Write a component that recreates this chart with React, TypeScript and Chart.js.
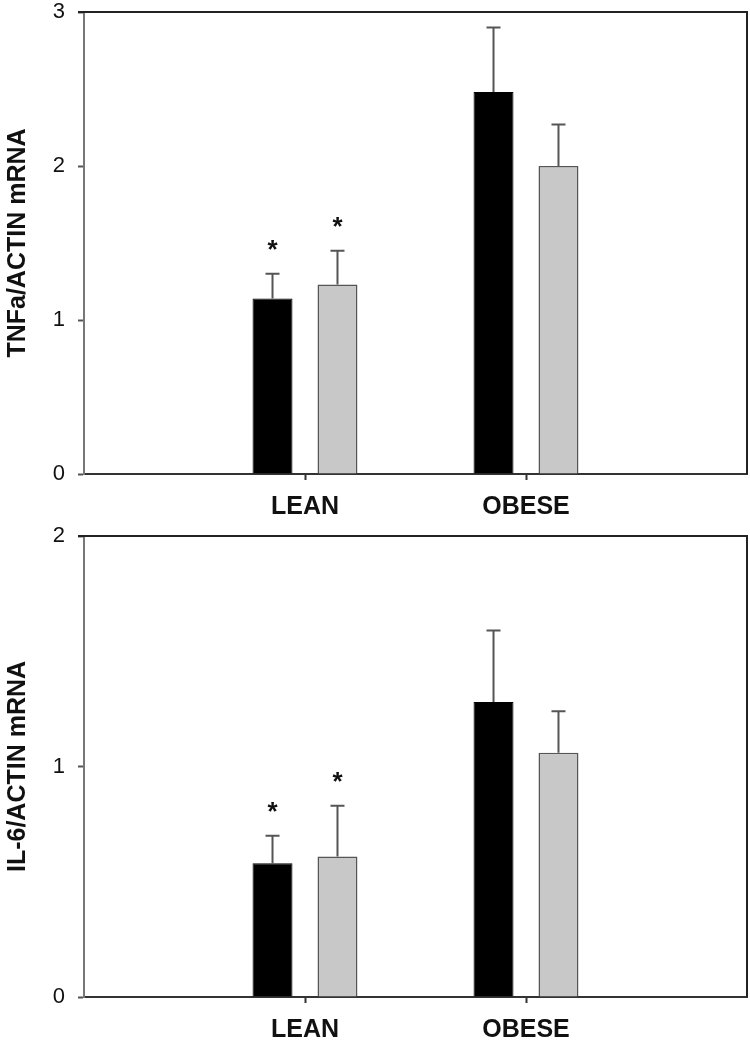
import React, { useEffect, useRef } from "react";
import { Chart, registerables } from "chart.js";

Chart.register(...registerables);

const categories = ["", "LEAN", "OBESE", ""];

const tnfBlack = [null, 1.14, 2.48, null];
const tnfBlackErr = [null, 0.16, 0.42, null];
const tnfGray = [null, 1.23, 2.0, null];
const tnfGrayErr = [null, 0.22, 0.27, null];
const tnfBlackStars = ["", "*", "", ""];
const tnfGrayStars = ["", "*", "", ""];

const il6Black = [null, 0.58, 1.28, null];
const il6BlackErr = [null, 0.12, 0.31, null];
const il6Gray = [null, 0.61, 1.06, null];
const il6GrayErr = [null, 0.22, 0.18, null];
const il6BlackStars = ["", "*", "", ""];
const il6GrayStars = ["", "*", "", ""];

const tnfTicks = [0, 1, 2, 3];
const il6Ticks = [0, 1, 2];

const FONT = "'Liberation Sans', Arial, Helvetica, sans-serif";

const errorBarPlugin = {
  id: "errorBars",
  afterDatasetsDraw(chart: any) {
    const ctx = chart.ctx;
    const yScale = chart.scales.y;
    chart.data.datasets.forEach((ds: any, di: number) => {
      const meta = chart.getDatasetMeta(di);
      meta.data.forEach((bar: any, i: number) => {
        const v = ds.data[i];
        if (v == null) return;
        const err = ds.errors ? ds.errors[i] : null;
        const x = bar.x;
        const yTop = yScale.getPixelForValue(v);
        let capY = yTop;
        if (err != null) {
          capY = yScale.getPixelForValue(v + err);
          ctx.save();
          ctx.strokeStyle = "#555";
          ctx.lineWidth = 2;
          ctx.beginPath();
          ctx.moveTo(x, yTop);
          ctx.lineTo(x, capY);
          ctx.moveTo(x - 7, capY);
          ctx.lineTo(x + 7, capY);
          ctx.stroke();
          ctx.restore();
        }
        const star = ds.stars ? ds.stars[i] : "";
        if (star) {
          ctx.save();
          ctx.fillStyle = "#111";
          ctx.font = `bold 26px ${FONT}`;
          ctx.textAlign = "center";
          ctx.textBaseline = "alphabetic";
          ctx.fillText(star, x, capY - 16);
          ctx.restore();
        }
      });
    });
  },
};

const frameBorderPlugin = {
  id: "frameBorder",
  afterDraw(chart: any) {
    const { ctx, chartArea } = chart;
    ctx.save();
    ctx.strokeStyle = "#222";
    ctx.lineWidth = 2;
    ctx.beginPath();
    ctx.moveTo(chartArea.left - 6, chartArea.top);
    ctx.lineTo(chartArea.right, chartArea.top);
    ctx.lineTo(chartArea.right, chartArea.bottom);
    ctx.stroke();
    ctx.restore();
  },
};

function makeConfig(
  title: string,
  ticks: number[],
  black: (number | null)[],
  blackErr: (number | null)[],
  blackStars: string[],
  gray: (number | null)[],
  grayErr: (number | null)[],
  grayStars: string[],
  padTop: number,
  xHeight: number
): any {
  return {
    type: "bar",
    data: {
      labels: categories,
      datasets: [
        {
          label: "black",
          data: black,
          errors: blackErr,
          stars: blackStars,
          backgroundColor: "#000000",
          borderColor: "#000000",
          borderWidth: 1,
          categoryPercentage: 0.588,
          barPercentage: 0.615,
        },
        {
          label: "gray",
          data: gray,
          errors: grayErr,
          stars: grayStars,
          backgroundColor: "#c8c8c8",
          borderColor: "#555555",
          borderWidth: 1.5,
          categoryPercentage: 0.588,
          barPercentage: 0.615,
        },
      ],
    },
    options: {
      responsive: false,
      animation: false,
      layout: { padding: { top: padTop, right: 3, left: 0, bottom: 0 } },
      plugins: {
        legend: { display: false },
        tooltip: { enabled: false },
      },
      scales: {
        x: {
          type: "category",
          offset: false,
          afterFit: (s: any) => {
            s.height = xHeight;
            s.paddingLeft = 0;
            s.paddingRight = 0;
          },
          grid: {
            display: true,
            offset: false,
            drawOnChartArea: false,
            drawTicks: true,
            tickLength: 6,
            tickWidth: 2,
            tickColor: (c: any) =>
              c.index === 0 || c.index === categories.length - 1 ? "rgba(0,0,0,0)" : "#333",
          },
          border: { display: true, color: "#333", width: 2 },
          ticks: {
            autoSkip: false,
            maxRotation: 0,
            padding: 12,
            color: "#111",
            font: { family: FONT, size: 25, weight: "bold", lineHeight: 1.2 },
          },
        },
        y: {
          min: ticks[0],
          max: ticks[ticks.length - 1],
          afterBuildTicks: (s: any) => {
            s.ticks = ticks.map((v) => ({ value: v }));
          },
          afterFit: (s: any) => {
            s.width = 84;
            s.paddingTop = 0;
            s.paddingBottom = 0;
          },
          grid: {
            display: true,
            drawOnChartArea: false,
            drawTicks: true,
            tickLength: 6,
            tickWidth: 2,
            tickColor: "#555",
          },
          border: { display: true, color: "#777", width: 2 },
          ticks: {
            padding: 13,
            color: "#111",
            font: { family: FONT, size: 22, lineHeight: 1 },
            callback: (v: any) => String(v),
          },
          title: {
            display: true,
            text: title,
            color: "#111",
            font: { family: FONT, size: 25, weight: "bold", lineHeight: 1.2 },
            padding: { top: 3, bottom: 0 },
          },
        },
      },
    },
    plugins: [errorBarPlugin, frameBorderPlugin],
  };
}

function BarChart(props: { config: any; width: number; height: number; top: number }) {
  const ref = useRef<HTMLCanvasElement>(null);
  useEffect(() => {
    if (!ref.current) return;
    const chart = new Chart(ref.current, props.config);
    return () => chart.destroy();
  }, []);
  return (
    <canvas
      ref={ref}
      width={props.width}
      height={props.height}
      style={{
        position: "absolute",
        left: 0,
        top: props.top,
        width: props.width,
        height: props.height,
        display: "block",
      }}
    />
  );
}

export default function App() {
  const topCfg = makeConfig(
    "TNFa/ACTIN mRNA",
    tnfTicks,
    tnfBlack,
    tnfBlackErr,
    tnfBlackStars,
    tnfGray,
    tnfGrayErr,
    tnfGrayStars,
    12,
    46
  );
  const bottomCfg = makeConfig(
    "IL-6/ACTIN mRNA",
    il6Ticks,
    il6Black,
    il6BlackErr,
    il6BlackStars,
    il6Gray,
    il6GrayErr,
    il6GrayStars,
    16,
    46
  );
  return (
    <div
      style={{
        position: "absolute",
        left: 0,
        top: 0,
        width: 750,
        height: 1043,
        background: "#ffffff",
        overflow: "hidden",
      }}
    >
      <BarChart config={topCfg} width={750} height={520} top={0} />
      <BarChart config={bottomCfg} width={750} height={523} top={520} />
    </div>
  );
}
